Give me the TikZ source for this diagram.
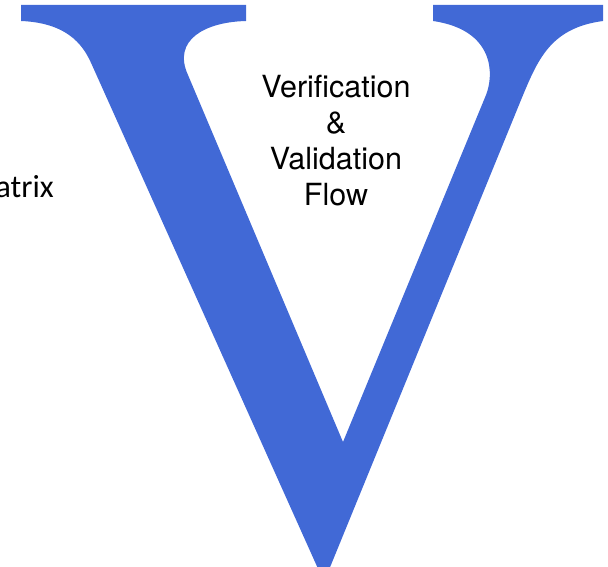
\documentclass[tikz,border=0pt]{standalone}
\usepackage{fontspec}
\newfontfamily\heros{TeX Gyre Heros}
\newfontfamily\carlitofont{Carlito}
\definecolor{vblue}{RGB}{65,105,214}
\begin{document}
\begin{tikzpicture}[x=1pt,y=-1pt,
  glyph/.style={fill=vblue,draw=none},
  caption/.style={align=center,inner sep=0pt,font=\heros\fontsize{30.5}{36}\selectfont},
  sidetext/.style={inner sep=0pt,font=\carlitofont\fontsize{32}{38}\selectfont}]
\useasboundingbox (0,0) rectangle (608,567);
\clip (0,0) rectangle (608,567);
% the large serif V
\fill[glyph]
  (21,5) -- (246,5) -- (246,21)
  .. controls (205,22) and (172,40) .. (188,75)
  -- (343,442) -- (486,95)
  .. controls (494,75) and (495,30) .. (433,21)
  -- (433,5) -- (603,5) -- (603,21)
  .. controls (550,28) and (537.6,60) .. (521,100)
  -- (324,582) -- (92,65)
  .. controls (85.3,50) and (72,23) .. (21,21) -- cycle;
% caption inside the V
\node[caption] (flow) at (336,141) {Verification\\\&\\Validation\\Flow};
% partly cut label at the left edge
\node[sidetext,anchor=base east] (matrix) at (54,197) {atrix};
\end{tikzpicture}
\end{document}
